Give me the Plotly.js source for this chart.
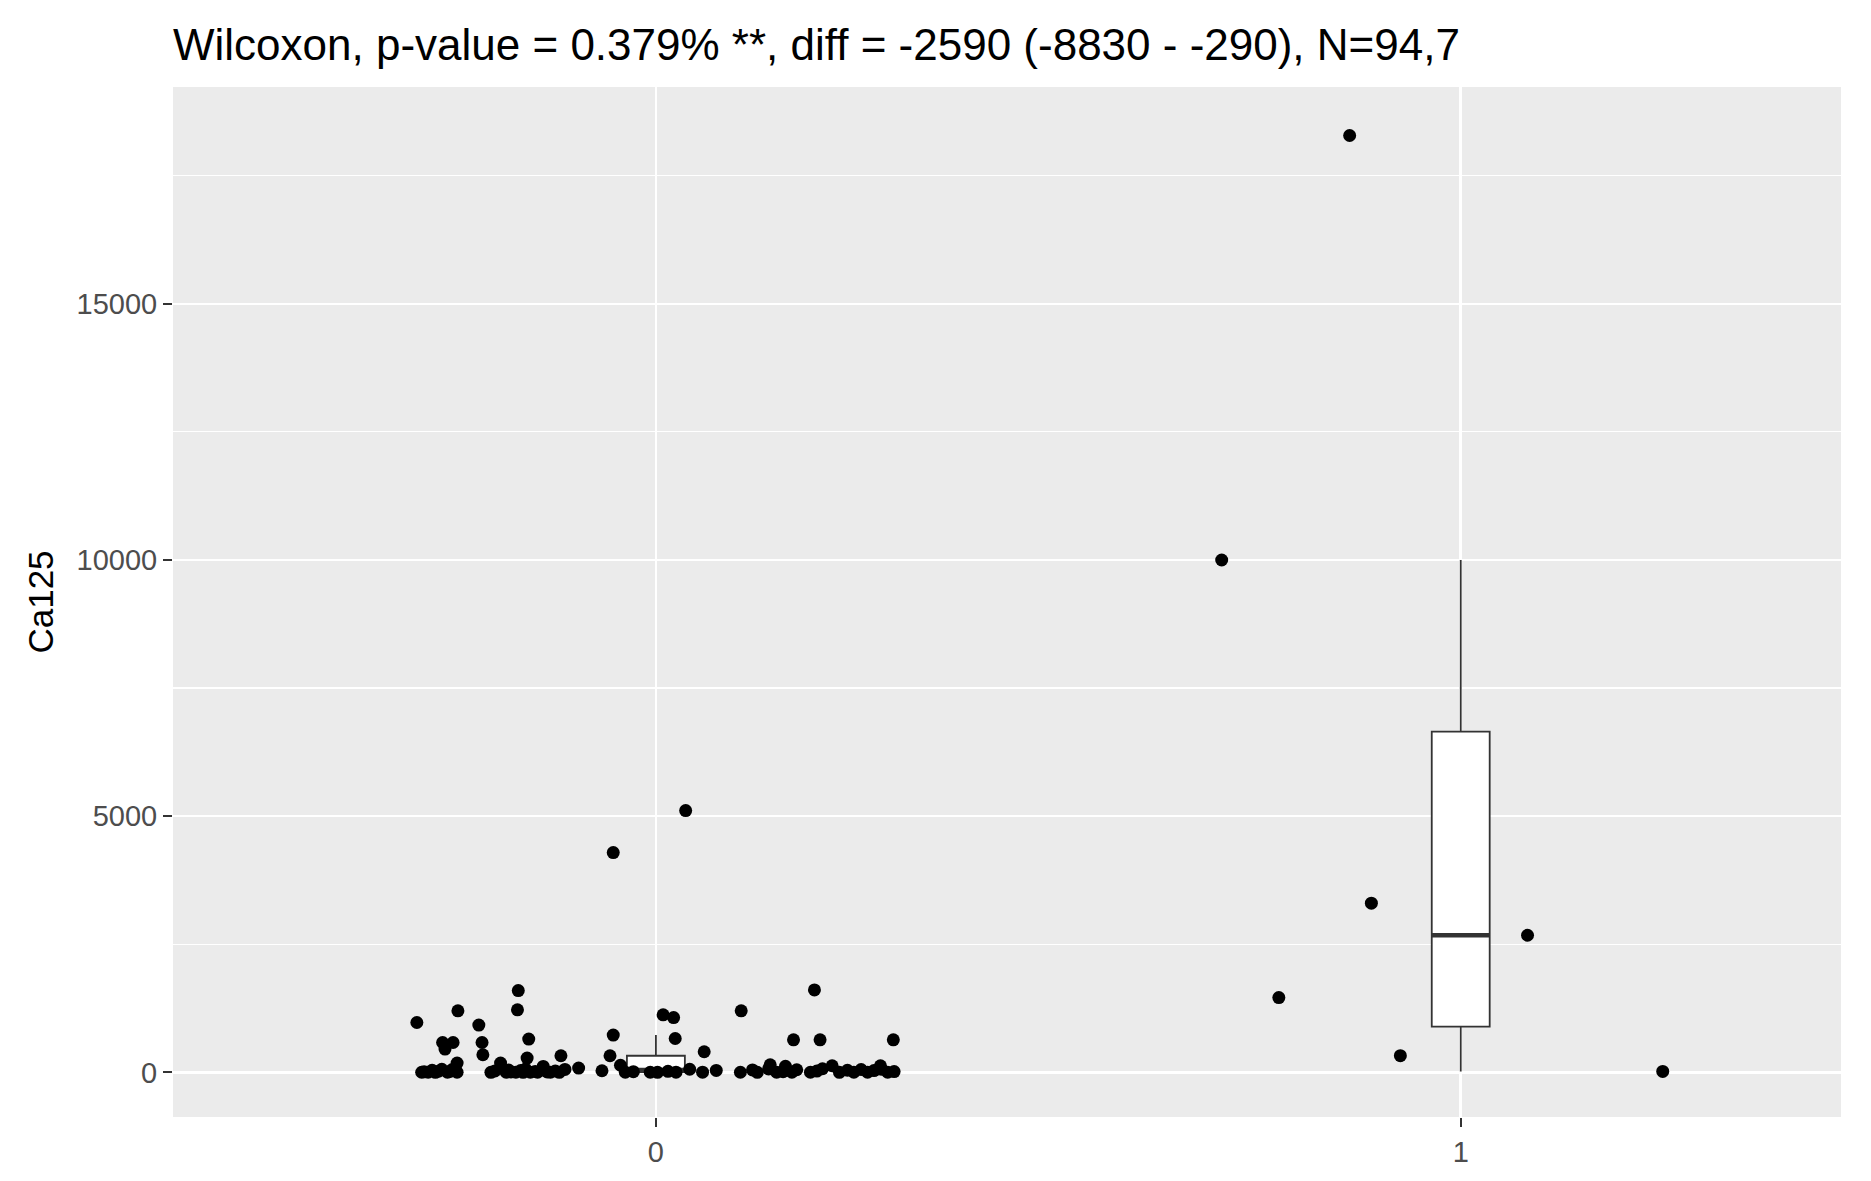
<!DOCTYPE html>
<html><head><meta charset="utf-8">
<script src="https://cdn.plot.ly/plotly-3.0.1.min.js"></script>
<style>html,body{margin:0;padding:0;background:#fff}</style>
</head><body><div id="chart" style="width:1871px;height:1181px"></div>
<script>
// ---- data ----
const groups = [0, 1];
const groupLabels = ['0', '1'];

const jitter0 = [
  -0.297, -0.246, -0.220, -0.171, -0.172, -0.265, -0.252, -0.262, -0.216, -0.215,
  -0.158, -0.160, -0.053, -0.057, -0.118, 0.009, 0.022, 0.024, 0.106, 0.060,
  0.197, 0.171, 0.204, 0.295, -0.053, 0.037,
  -0.247, -0.193, -0.044, 0.142, 0.219, 0.279, -0.096, 0.207, -0.140, 0.161,
  -0.291, -0.288, -0.283, -0.278, -0.274, -0.270, -0.266, -0.259, -0.256, -0.253,
  -0.247, -0.205, -0.200, -0.186, -0.183, -0.180, -0.174, -0.168, -0.165, -0.162,
  -0.156, -0.150, -0.147, -0.139, -0.135, -0.131, -0.125, -0.120, -0.113, -0.067,
  -0.038, -0.028, -0.007, 0.002, 0.015, 0.025, 0.042, 0.058, 0.075, 0.105,
  0.120, 0.126, 0.140, 0.150, 0.158, 0.169, 0.175, 0.192, 0.200, 0.228,
  0.238, 0.246, 0.255, 0.263, 0.271, 0.280, 0.288, 0.296
];
const ca125_0 = [
  974, 1201, 923, 1597, 1221, 584, 584, 455, 584, 345,
  650, 280, 728, 325, 325, 1123, 1071, 662, 1201, 403,
  1610, 637, 637, 637, 4291, 5109,
  183, 183, 140, 150, 130, 130, 85, 72, 117, 120,
  3, 12, 5, 40, 2, 25, 60, 4, 18, 55,
  3, 2, 30, 4, 45, 8, 5, 35, 2, 65,
  5, 20, 3, 50, 10, 4, 28, 2, 58, 33,
  5, 15, 3, 1, 22, 4, 62, 5, 38, 3,
  48, 2, 68, 5, 14, 4, 52, 3, 26, 2,
  42, 5, 57, 4, 36, 64, 3, 16
];

// group "1"
const jitter1 = [-0.297, -0.111, -0.226, -0.075, 0.083, 0.251, -0.138];
const ca125_1 = [10000, 3303, 1461, 326, 2677, 20, 18284];

const yTicks = [0, 5000, 10000, 15000];
const yTickLabels = ['0', '5000', '10000', '15000'];
const titleText = 'Wilcoxon, p-value = 0.379% **, diff = -2590 (-8830 - -290), N=94,7';
const yTitle = 'Ca125';

// ---- styles ----
const BOXW = 0.072;
const LINE = '#333333';
const FONT = '"Liberation Sans", Arial, Helvetica, sans-serif';

function quantile7(arr, p) {
  const s = [...arr].sort((a, b) => a - b);
  const h = (s.length - 1) * p;
  const lo = Math.floor(h);
  const hi = Math.min(lo + 1, s.length - 1);
  return s[lo] + (h - lo) * (s[hi] - s[lo]);
}

const series = [
  {g: groups[0], jit: jitter0, vals: ca125_0},
  {g: groups[1], jit: jitter1, vals: ca125_1}
];

const traces = [];
series.forEach(s => {
  traces.push({
    type: 'box', y: s.vals, x0: s.g, width: BOXW,
    boxpoints: 'outliers', marker: {color: 'rgba(0,0,0,0)', size: 1, line: {width: 0}},
    fillcolor: 'white', line: {color: LINE, width: 1.8}, whiskerwidth: 0,
    quartilemethod: 'inclusive', hoverinfo: 'skip', showlegend: false
  });
});
series.forEach(s => {
  const med = quantile7(s.vals, 0.5);
  traces.push({
    type: 'scatter', mode: 'lines',
    x: [s.g - BOXW / 2, s.g + BOXW / 2], y: [med, med],
    line: {color: LINE, width: 4.5}, hoverinfo: 'skip', showlegend: false
  });
});
series.forEach(s => {
  traces.push({
    type: 'scatter', mode: 'markers',
    x: s.jit.map(j => s.g + j), y: s.vals,
    marker: {color: 'black', size: 13, line: {width: 0}},
    showlegend: false
  });
});

const layout = {
  width: 1871, height: 1181,
  margin: {l: 172.5, r: 30, t: 87.3, b: 63.7, pad: 0},
  paper_bgcolor: 'white', plot_bgcolor: '#EBEBEB',
  font: {family: FONT, color: 'black'},
  showlegend: false,
  title: {
    text: titleText, font: {family: FONT, size: 44, color: 'black'},
    xref: 'paper', x: 0, xanchor: 'left',
    yref: 'container', y: 1 - 44.5 / 1181, yanchor: 'middle'
  },
  xaxis: {
    range: [-0.6, 1.4725], tickmode: 'array', tickvals: groups, ticktext: groupLabels,
    showgrid: true, gridcolor: 'white', gridwidth: 2.5, zeroline: false, showline: false,
    ticks: 'outside', ticklen: 9, tickwidth: 2, tickcolor: LINE,
    tickfont: {family: FONT, size: 29, color: '#4D4D4D'}
  },
  yaxis: {
    range: [-870, 19230], tickmode: 'array', tickvals: yTicks, ticktext: yTickLabels,
    showgrid: true, gridcolor: 'white', gridwidth: 2.5, zeroline: false, showline: false,
    ticks: 'outside', ticklen: 9, tickwidth: 2, tickcolor: LINE,
    tickfont: {family: FONT, size: 29, color: '#4D4D4D'},
    minor: {dtick: 2500, tick0: 0, showgrid: true, gridcolor: 'white', gridwidth: 1.2, ticks: ''},
    title: {text: yTitle, font: {family: FONT, size: 35, color: 'black'}, standoff: 12}
  }
};

Plotly.newPlot('chart', traces, layout, {staticPlot: true, displayModeBar: false});
</script>
</body></html>
